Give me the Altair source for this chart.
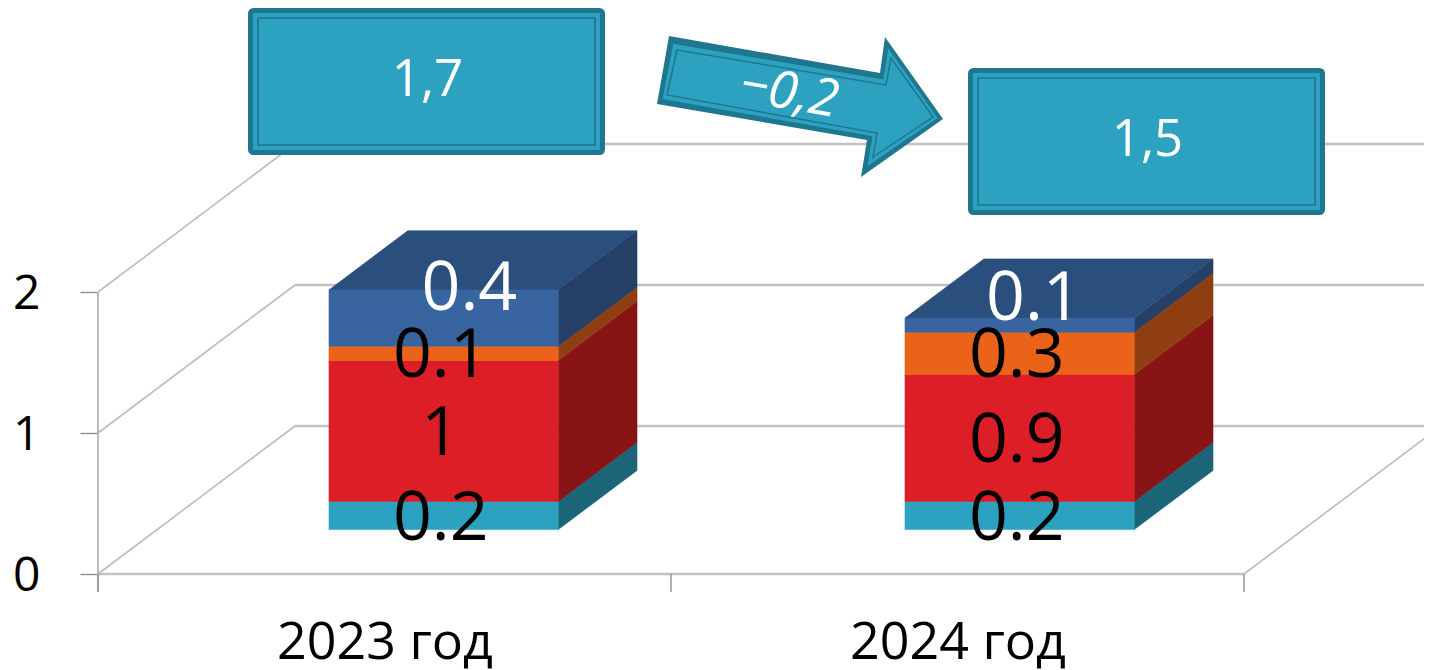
import altair as alt
import pandas as pd

# ---------- values ----------
years = ["2023 год", "2024 год"]
series = ["a", "b", "c", "d"]
values_2023 = [0.2, 1.0, 0.1, 0.4]
values_2024 = [0.2, 0.9, 0.3, 0.1]
labels_2023 = ["0.2", "1", "0.1", "0.4"]
labels_2024 = ["0.2", "0.9", "0.3", "0.1"]
front_colors = ["#2ca2c0", "#dc1e27", "#ea6319", "#38659f"]
side_colors = ["#1c6578", "#881416", "#8e3e10", "#263f66"]
top_color = "#2b4f7c"
label_colors = ["black", "black", "black", "white"]
# extra shift of the labels of the top series, in chart units (x, value)
label_shift = {0: (0.05, 0.226), 1: (0.03, 0.205)}

y_ticks = [0, 1, 2]
x_ticks = [0, 1, 2]
callouts = ["1,7", "1,5"]
delta_label = "−0,2"

# ---------- layout of the pseudo-3D projection ----------
W, H = 1416, 662
UX, UY = 573.0, 141.0           # pixels per category / per value
X0, Y0 = 98.0, 574.0            # image position of the origin
DX, DY = 197.0 / UX, 148.0 / UY  # full depth of the floor, in chart units
Z_FRONT, Z_BACK = 0.3, 0.7      # depth of the front and back of a column
BAR_W = 0.4
BAR_NUDGE = [0.0, 3.0 / UX]
LABEL_DROP = 4.0 / UY
FONT = "Open Sans"


def xd(px):
    return (px - X0) / UX


def yd(py):
    return (Y0 - py) / UY


x_scale = alt.Scale(domain=[xd(8), xd(8 + W)], nice=False, zero=False)
y_scale = alt.Scale(domain=[yd(8 + H), yd(8)], nice=False, zero=False)

expr = f"datum.value < 1 ? '{years[0]}' : '{years[1]}'"
x_axis = alt.Axis(
    values=[0.5, 1.5], labelExpr=expr, ticks=False, domain=False, grid=False, title=None,
    labelFont=FONT, labelFontSize=52, labelColor="black", labelPadding=43, labelLimit=500,
    labelOverlap=False, labelFlush=False, labelBound=False,
    offset=-(8 + H - Y0))
y_axis = alt.Axis(
    values=y_ticks, format="d", tickSize=18, tickColor="#8f8f8f", tickWidth=1.4, title=None,
    domain=False, grid=False, labelFont=FONT, labelFontSize=48, labelColor="black",
    labelPadding=40, labelOffset=2, labelOverlap=False, labelFlush=False, labelBound=False,
    offset=-(X0 - 8))


def X(f="x", **kw):
    return alt.X(f"{f}:Q", scale=x_scale, axis=x_axis, **kw)


def Y(f="y", **kw):
    return alt.Y(f"{f}:Q", scale=y_scale, axis=y_axis, **kw)


# ---------- frame ----------
rows_diag, rows_back, i = [], [], 0
for v in y_ticks:
    rows_diag += [dict(id=i, x=0, y=v), dict(id=i, x=DX, y=v + DY)]
    i += 1
rows_diag += [dict(id=i, x=2, y=0), dict(id=i, x=2 + DX, y=DY)]
for v in y_ticks:
    i += 1
    rows_back += [dict(id=i, x=DX, y=v + DY), dict(id=i, x=2 + DX, y=v + DY)]
i += 1
rows_back += [dict(id=i, x=0, y=0), dict(id=i, x=2, y=0)]

diag = alt.Chart(pd.DataFrame(rows_diag)).mark_line(color="#bcbcbc", strokeWidth=1.6).encode(
    x=X(), y=Y(), detail="id:N")
back = alt.Chart(pd.DataFrame(rows_back)).mark_line(color="#c2c2c2", strokeWidth=2.6, clip=True).encode(
    x=X(), y=Y(), detail="id:N")
wall = alt.Chart(pd.DataFrame([dict(x=0, y=-18 / UY, y2=2)])).mark_rule(
    color="#b4b4b4", strokeWidth=1.8).encode(x=X(), y=Y(), y2="y2:Q")
xticks = alt.Chart(pd.DataFrame([dict(x=t, y=-18 / UY, y2=0) for t in x_ticks])).mark_rule(
    color="#8f8f8f", strokeWidth=1.4).encode(x=X(), y=Y(), y2="y2:Q")

# ---------- columns ----------
front, side, top, text = [], [], [], []
for b, (vals, labs) in enumerate(zip([values_2023, values_2024], [labels_2023, labels_2024])):
    left = b + 0.5 - BAR_W / 2 + DX * Z_FRONT + BAR_NUDGE[b]
    right = left + BAR_W
    base = 0.0
    for s, v in enumerate(vals):
        y0 = base + DY * Z_FRONT
        y1 = y0 + v
        depth_x = DX * (Z_BACK - Z_FRONT)
        depth_y = DY * (Z_BACK - Z_FRONT)
        front.append(dict(x=left, x2=right, y=y0, y2=y1, c=front_colors[s]))
        fid = f"{b}{s}"
        side.append(dict(id=fid, x=right, y=y0, y2=y1, c=side_colors[s]))
        side.append(dict(id=fid, x=right + depth_x, y=y0 + depth_y, y2=y1 + depth_y, c=side_colors[s]))
        sx, sy = label_shift[b] if s == len(vals) - 1 else (0, 0)
        text.append(dict(x=(left + right) / 2 - 0.005 + sx, y=(y0 + y1) / 2 + sy - LABEL_DROP,
                         t=labs[s], c=label_colors[s]))
        base += v
    ytop = base + DY * Z_FRONT
    top.append(dict(id=b, y=ytop, x=left, x2=right, c=top_color))
    top.append(dict(id=b, y=ytop + depth_y, x=left + depth_x, x2=right + depth_x, c=top_color))

face_fill = alt.Color("c:N", scale=None)
face_line = alt.Stroke("c:N", scale=None)
front_l = alt.Chart(pd.DataFrame(front)).mark_rect(strokeWidth=0.6).encode(
    x=X(), x2="x2:Q", y=Y(), y2="y2:Q", color=face_fill, stroke=face_line)
side_l = alt.Chart(pd.DataFrame(side)).mark_area(opacity=1, strokeWidth=0.6).encode(
    x=X(), y=Y(), y2="y2:Q", detail="id:N", color=face_fill, stroke=face_line)
top_l = alt.Chart(pd.DataFrame(top)).mark_area(opacity=1, orient="horizontal", strokeWidth=0.6).encode(
    y=Y(), x=X(), x2="x2:Q", detail="id:N", color=face_fill, stroke=face_line)
text_l = alt.Chart(pd.DataFrame(text)).mark_text(font=FONT, fontSize=68, baseline="middle").encode(
    x=X(), y=Y(), text="t:N", color=face_fill)

# ---------- call-out boxes ----------
box_left = [248, 968]
box_top = [8, 68]
BOX_W, BOX_H = 357, 147
BOX_FILL, BOX_EDGE = "#2ca2c0", "#1f768f"


def inset_rows(inset):
    return pd.DataFrame([dict(x=xd(l + inset), x2=xd(l + BOX_W - inset),
                              y=yd(t + inset), y2=yd(t + BOX_H - inset))
                         for l, t in zip(box_left, box_top)])


box_outer = alt.Chart(inset_rows(2.5)).mark_rect(
    fill=BOX_FILL, stroke=BOX_EDGE, strokeWidth=5, cornerRadius=3).encode(
    x=X(), x2="x2:Q", y=Y(), y2="y2:Q")
box_inner = alt.Chart(inset_rows(10)).mark_rect(
    fillOpacity=0, stroke=BOX_EDGE, strokeWidth=1.6).encode(
    x=X(), x2="x2:Q", y=Y(), y2="y2:Q")
box_text = alt.Chart(pd.DataFrame([
    dict(x=xd(l + BOX_W / 2 + 1), y=yd(t + 73), t=c)
    for l, t, c in zip(box_left, box_top, callouts)])).mark_text(
    font=FONT, fontSize=51, color="white", baseline="middle").encode(
    x=X(), y=Y(), text="t:N")

# ---------- arrow ----------
ARROW_CX, ARROW_CY = 800, 107
arrow_outer = [(669, 36), (657, 104), (867, 140), (861, 177), (943, 119), (885, 37), (880, 73)]
arrow_line = [(677, 50), (667, 95), (877, 133), (873, 157), (933, 117), (891, 58), (886, 85)]
arrow_mid = [(a[0] + 0.55 * (b[0] - a[0]), a[1] + 0.55 * (b[1] - a[1]))
             for a, b in zip(arrow_outer, arrow_line)]


def path(pts):
    return "M" + " L".join(f"{p[0] - ARROW_CX:.1f},{p[1] - ARROW_CY:.1f}" for p in pts) + " Z"


arrow_pos = pd.DataFrame([dict(x=xd(ARROW_CX), y=yd(ARROW_CY))])
a1 = alt.Chart(arrow_pos).mark_point(shape=path(arrow_outer), size=4, filled=True, fill=BOX_EDGE,
                                     opacity=1, strokeWidth=0).encode(x=X(), y=Y())
a2 = alt.Chart(arrow_pos).mark_point(shape=path(arrow_mid), size=4, filled=True, fill=BOX_FILL,
                                     opacity=1, strokeWidth=0).encode(x=X(), y=Y())
a3 = alt.Chart(arrow_pos).mark_point(shape=path(arrow_line), size=4, filled=False, stroke=BOX_EDGE,
                                     opacity=1, strokeWidth=1.5).encode(x=X(), y=Y())
a_text = alt.Chart(pd.DataFrame([dict(x=xd(789), y=yd(93), t=delta_label)])).mark_text(
    font=FONT, fontSize=52, fontStyle="italic", color="white", angle=10, baseline="middle").encode(
    x=X(), y=Y(), text="t:N")

chart = alt.layer(
    diag, back, wall, xticks, side_l, top_l, front_l, text_l,
    box_outer, box_inner, box_text, a1, a2, a3, a_text,
).properties(
    width=W, height=H, padding=0,
    autosize=alt.AutoSizeParams(type="none"),
    background="white",
).configure_view(stroke=None)

chart.save("out.html", embed_options={"renderer": "svg", "actions": False})
